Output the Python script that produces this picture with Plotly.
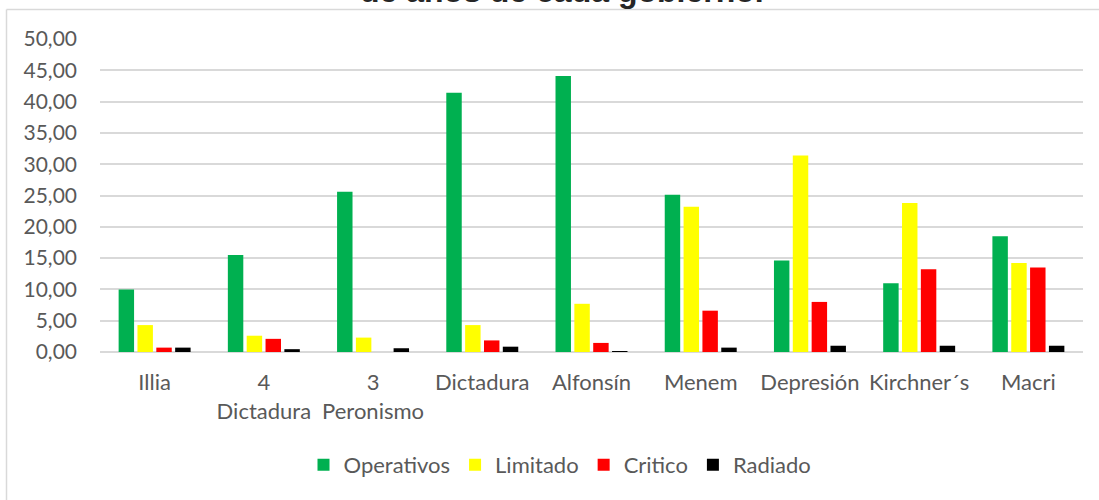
import plotly.graph_objects as go

categories = ["Illia", "4<br>Dictadura", "3<br>Peronismo", "Dictadura", "Alfonsín",
              "Menem", "Depresión", "Kirchner´s", "Macri"]
operativos = [10.0, 15.5, 25.6, 41.4, 44.1, 25.1, 14.6, 11.0, 18.5]
limitado = [4.3, 2.6, 2.3, 4.3, 7.7, 23.2, 31.4, 23.8, 14.2]
critico = [0.7, 2.1, 0.0, 1.85, 1.45, 6.6, 8.0, 13.2, 13.5]
radiado = [0.7, 0.45, 0.6, 0.85, 0.1, 0.7, 1.0, 1.0, 1.0]
y_ticks = [0, 5, 10, 15, 20, 25, 30, 35, 40, 45, 50]
y_ticktext = ["0,00", "5,00", "10,00", "15,00", "20,00", "25,00", "30,00",
              "35,00", "40,00", "45,00", "50,00"]

series = [
    ("Operativos", operativos, "#00B050"),
    ("Limitado", limitado, "#FFFF00"),
    ("Critico", critico, "#FF0000"),
    ("Radiado", radiado, "#000000"),
]

FONT = "Lato"
TXT = "#595959"

fig = go.Figure()
for name, vals, col in series:
    fig.add_trace(go.Bar(x=categories, y=vals, name=name,
                         marker=dict(color=col, line=dict(width=0))))

# pixel -> paper helpers (plot area: x 100..1083, y 39..352)
L, R, T, B = 100, 1083, 39, 352
def px(x):
    return (x - L) / (R - L)
def py(y):
    return (B - y) / (B - T)

fig.update_layout(
    width=1099, height=500,
    margin=dict(l=L, r=1099 - R, t=T, b=500 - B),
    paper_bgcolor="white", plot_bgcolor="white",
    barmode="group", bargap=0.31, bargroupgap=0.18,
    font=dict(family=FONT, size=21, color=TXT),
    showlegend=True,
    legend=dict(orientation="h", x=px(560), xanchor="center",
                y=py(465), yanchor="middle",
                font=dict(family=FONT, size=22, color=TXT),
                traceorder="normal"),
    xaxis=dict(showgrid=False, showline=False, ticks="",
               tickfont=dict(family=FONT, size=22, color=TXT),
               ticklabelstandoff=15, fixedrange=True),
    yaxis=dict(range=[0, 50], tickmode="array", tickvals=y_ticks,
               ticktext=y_ticktext, showgrid=True, gridcolor="#D9D9D9",
               gridwidth=1.5, zeroline=True, zerolinecolor="#D9D9D9",
               zerolinewidth=1.5, showline=False, ticks="",
               tickfont=dict(family=FONT, size=21, color=TXT),
               ticklabelstandoff=22, fixedrange=True),
    shapes=[
        dict(type="line", xref="paper", yref="paper",
             x0=px(6.5), x1=px(6.5), y0=py(9.5), y1=py(520),
             line=dict(color="#D9D9D9", width=1.5)),
        dict(type="line", xref="paper", yref="paper",
             x0=px(6.5), x1=px(1120), y0=py(9.5), y1=py(9.5),
             line=dict(color="#D9D9D9", width=1.5)),
    ],
    annotations=[
        dict(text="<b>de años de cada gobierno.</b>", xref="paper", yref="paper",
             x=px(562), y=py(11.5), xanchor="center", yanchor="bottom",
             showarrow=False,
             font=dict(family="Liberation Sans", size=32, color="#262626")),
    ],
)

fig.write_html("out.html", config={"displayModeBar": False},
               post_script="document.body.style.margin='0';document.body.style.overflow='hidden';")
